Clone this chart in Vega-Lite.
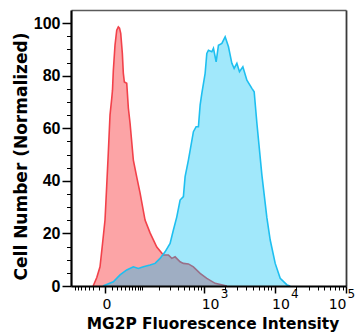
{
  "$schema": "https://vega.github.io/schema/vega-lite/v6.json",
  "width": 275,
  "height": 276,
  "autosize": {"type": "none"},
  "padding": {"left": 71, "top": 10, "right": 11, "bottom": 49},
  "background": "white",
  "view": {"stroke": null},
  "data": {
    "values": [
      {"sample": "Control", "intensity": -20, "count": 0},
      {"sample": "Control", "intensity": -13, "count": 3.2},
      {"sample": "Control", "intensity": -7.5, "count": 7.3},
      {"sample": "Control", "intensity": -3.6, "count": 16},
      {"sample": "Control", "intensity": 0, "count": 25.1},
      {"sample": "Control", "intensity": 2.4, "count": 38},
      {"sample": "Control", "intensity": 4.8, "count": 50.6},
      {"sample": "Control", "intensity": 7.5, "count": 65},
      {"sample": "Control", "intensity": 10.4, "count": 71.4},
      {"sample": "Control", "intensity": 11.7, "count": 74.5},
      {"sample": "Control", "intensity": 13.2, "count": 82},
      {"sample": "Control", "intensity": 16.3, "count": 91.6},
      {"sample": "Control", "intensity": 19.7, "count": 97.3},
      {"sample": "Control", "intensity": 23, "count": 98.6},
      {"sample": "Control", "intensity": 25.6, "count": 98.1},
      {"sample": "Control", "intensity": 28.3, "count": 96.1},
      {"sample": "Control", "intensity": 32.1, "count": 88.5},
      {"sample": "Control", "intensity": 34.5, "count": 81},
      {"sample": "Control", "intensity": 37.1, "count": 77.6},
      {"sample": "Control", "intensity": 43.5, "count": 77.1},
      {"sample": "Control", "intensity": 48.1, "count": 67.7},
      {"sample": "Control", "intensity": 53.2, "count": 62},
      {"sample": "Control", "intensity": 64, "count": 47.9},
      {"sample": "Control", "intensity": 76.4, "count": 41.4},
      {"sample": "Control", "intensity": 89.7, "count": 35.4},
      {"sample": "Control", "intensity": 112.9, "count": 25.1},
      {"sample": "Control", "intensity": 140.2, "count": 20.2},
      {"sample": "Control", "intensity": 184.3, "count": 14.8},
      {"sample": "Control", "intensity": 238.1, "count": 11.8},
      {"sample": "Control", "intensity": 287.3, "count": 11.8},
      {"sample": "Control", "intensity": 325.5, "count": 10.5},
      {"sample": "Control", "intensity": 366.8, "count": 11.1},
      {"sample": "Control", "intensity": 438.4, "count": 9.2},
      {"sample": "Control", "intensity": 492.3, "count": 8.6},
      {"sample": "Control", "intensity": 585.9, "count": 8.4},
      {"sample": "Control", "intensity": 695.7, "count": 7.3},
      {"sample": "Control", "intensity": 873.8, "count": 4.8},
      {"sample": "Control", "intensity": 1094, "count": 2.9},
      {"sample": "Control", "intensity": 1443, "count": 1.0},
      {"sample": "Control", "intensity": 2123, "count": 0},
      {"sample": "MG2P", "intensity": -3, "count": 0},
      {"sample": "MG2P", "intensity": 13.2, "count": 1.6},
      {"sample": "MG2P", "intensity": 26.7, "count": 4.2},
      {"sample": "MG2P", "intensity": 43.5, "count": 6.1},
      {"sample": "MG2P", "intensity": 64, "count": 7.3},
      {"sample": "MG2P", "intensity": 82.7, "count": 6.7},
      {"sample": "MG2P", "intensity": 104.6, "count": 7.3},
      {"sample": "MG2P", "intensity": 140.2, "count": 8.0},
      {"sample": "MG2P", "intensity": 172.2, "count": 8.6},
      {"sample": "MG2P", "intensity": 209.8, "count": 10.5},
      {"sample": "MG2P", "intensity": 253.9, "count": 13.0},
      {"sample": "MG2P", "intensity": 305.8, "count": 16.2},
      {"sample": "MG2P", "intensity": 345, "count": 21.3},
      {"sample": "MG2P", "intensity": 389.9, "count": 26.3},
      {"sample": "MG2P", "intensity": 438.4, "count": 32.7},
      {"sample": "MG2P", "intensity": 492.3, "count": 34.0},
      {"sample": "MG2P", "intensity": 522.5, "count": 41.6},
      {"sample": "MG2P", "intensity": 585.9, "count": 47.9},
      {"sample": "MG2P", "intensity": 695.7, "count": 58.7},
      {"sample": "MG2P", "intensity": 763, "count": 60.6},
      {"sample": "MG2P", "intensity": 824.8, "count": 60.6},
      {"sample": "MG2P", "intensity": 873.8, "count": 68.8},
      {"sample": "MG2P", "intensity": 925.4, "count": 73.3},
      {"sample": "MG2P", "intensity": 1034, "count": 80.9},
      {"sample": "MG2P", "intensity": 1094, "count": 88.5},
      {"sample": "MG2P", "intensity": 1155, "count": 89.7},
      {"sample": "MG2P", "intensity": 1293, "count": 89.1},
      {"sample": "MG2P", "intensity": 1364, "count": 90.4},
      {"sample": "MG2P", "intensity": 1492, "count": 85.3},
      {"sample": "MG2P", "intensity": 1610, "count": 91.6},
      {"sample": "MG2P", "intensity": 1801, "count": 92.3},
      {"sample": "MG2P", "intensity": 2008, "count": 94.8},
      {"sample": "MG2P", "intensity": 2239, "count": 91.0},
      {"sample": "MG2P", "intensity": 2502, "count": 84.7},
      {"sample": "MG2P", "intensity": 2695, "count": 82.8},
      {"sample": "MG2P", "intensity": 2946, "count": 84.7},
      {"sample": "MG2P", "intensity": 3207, "count": 81.5},
      {"sample": "MG2P", "intensity": 3583, "count": 83.4},
      {"sample": "MG2P", "intensity": 4082, "count": 78.3},
      {"sample": "MG2P", "intensity": 4803, "count": 75.2},
      {"sample": "MG2P", "intensity": 5173, "count": 73.9},
      {"sample": "MG2P", "intensity": 5650, "count": 61.9},
      {"sample": "MG2P", "intensity": 6644, "count": 42.2},
      {"sample": "MG2P", "intensity": 7813, "count": 25.9},
      {"sample": "MG2P", "intensity": 8695, "count": 17.5},
      {"sample": "MG2P", "intensity": 10217, "count": 8.6},
      {"sample": "MG2P", "intensity": 12006, "count": 2.9},
      {"sample": "MG2P", "intensity": 14960, "count": 0.4},
      {"sample": "MG2P", "intensity": 16598, "count": 0}
    ]
  },
  "layer": [
    {
      "transform": [{"filter": "datum.sample == 'Control'"}],
      "mark": {"type": "area", "fill": "#fca4a6", "fillOpacity": 1},
      "encoding": {
        "x": {
          "field": "intensity", "type": "quantitative",
          "scale": {"type": "symlog", "constant": 43, "domain": [-85.4, 100000], "nice": false, "zero": false},
          "axis": {
            "orient": "bottom", "zindex": 2, "grid": false,
            "values": [0, 1000, 10000, 100000],
            "labelExpr": "datum.value == 0 ? '0' : '10'",
            "tickSize": 7, "tickWidth": 1.5, "tickColor": "#000",
            "domainColor": "#000", "domainWidth": 2.2,
            "labelFont": "DejaVu Sans", "labelFontSize": 14, "labelColor": "#000", "labelPadding": 4,
            "labelFlush": false, "labelOverlap": false, "labelBound": false,
            "labelAlign": {"condition": {"test": "datum.value >= 100000", "value": "right"}, "value": "left"},
            "labelOffset": {"condition": {"test": "datum.value >= 100000", "value": 0}, "value": -3},
            "title": "MG2P Fluorescence Intensity",
            "titleFont": "DejaVu Sans", "titleFontWeight": "bold", "titleFontSize": 15.4, "titleColor": "#000",
            "titleX": 141.5, "titleY": 42, "titleBaseline": "alphabetic"
          }
        },
        "y": {
          "field": "count", "type": "quantitative",
          "scale": {"domain": [0, 105], "nice": false},
          "axis": {
            "orient": "left", "zindex": 2, "grid": false,
            "values": [0, 20, 40, 60, 80, 100],
            "tickSize": 9, "tickWidth": 1.5, "tickColor": "#000",
            "domainColor": "#000", "domainWidth": 2.2,
            "labelFont": "Liberation Sans", "labelFontWeight": "bold", "labelFontSize": 16, "labelColor": "#000", "labelPadding": 2,
            "labelOverlap": false, "labelFlush": false,
            "title": "Cell Number (Normalized)",
            "titleFont": "DejaVu Sans", "titleFontWeight": "bold", "titleFontSize": 17, "titleColor": "#000",
            "titleX": -44.5, "titleY": 146, "titleBaseline": "alphabetic"
          }
        }
      }
    },
    {
      "transform": [{"filter": "datum.sample == 'Control'"}],
      "mark": {"type": "line", "color": "#f2414a", "strokeWidth": 1.6},
      "encoding": {
        "x": {
          "field": "intensity", "type": "quantitative",
          "axis": {
            "orient": "bottom", "zindex": 2, "grid": false, "domain": false, "labels": false, "title": null,
            "values": [-70, -60, -50, -40, -30, -20, -10, 10, 20, 30, 40, 50, 60, 70, 80, 90, 100, 200, 300, 400, 500, 600, 700, 800, 900, 2000, 3000, 4000, 5000, 6000, 7000, 8000, 9000, 20000, 30000, 40000, 50000, 60000, 70000, 80000, 90000],
            "tickSize": 4, "tickWidth": 1, "tickColor": "#000"
          }
        },
        "y": {
          "field": "count", "type": "quantitative",
          "axis": {
            "orient": "left", "zindex": 2, "grid": false, "domain": false, "labels": false, "title": null,
            "values": [5, 10, 15, 25, 30, 35, 45, 50, 55, 65, 70, 75, 85, 90, 95],
            "tickSize": 4.5, "tickWidth": 1, "tickColor": "#000"
          }
        }
      }
    },
    {
      "transform": [{"filter": "datum.sample == 'MG2P'"}],
      "mark": {"type": "area", "fill": "#00c1f4", "fillOpacity": 0.37},
      "encoding": {
        "x": {"field": "intensity", "type": "quantitative",
          "axis": {"orient": "top", "zindex": 1, "grid": false, "domain": true, "domainColor": "#5a5a5a", "domainWidth": 1.5, "ticks": false, "labels": false, "title": null}},
        "y": {"field": "count", "type": "quantitative",
          "axis": {"orient": "right", "zindex": 1, "grid": false, "domain": true, "domainColor": "#3a3a3a", "domainWidth": 1.8, "ticks": false, "labels": false, "title": null}}
      }
    },
    {
      "transform": [{"filter": "datum.sample == 'MG2P'"}],
      "mark": {"type": "line", "color": "#1ebff0", "strokeWidth": 1.6},
      "encoding": {
        "x": {"field": "intensity", "type": "quantitative",
          "axis": {
            "orient": "bottom", "zindex": 2, "grid": false, "domain": false, "ticks": false, "tickSize": 0, "title": null,
            "values": [1000, 10000, 100000],
            "labelExpr": "datum.value == 1000 ? '3' : datum.value == 10000 ? '4' : '5'",
            "labelFont": "DejaVu Sans", "labelFontSize": 12, "labelColor": "#000", "labelPadding": 2,
            "labelFlush": false, "labelOverlap": false, "labelBound": false,
            "labelAlign": "left",
            "labelOffset": {"condition": {"test": "datum.value >= 100000", "value": 1}, "value": 16}
          }},
        "y": {"field": "count", "type": "quantitative", "axis": null}
      }
    }
  ],
  "resolve": {"axis": {"x": "independent", "y": "independent"}}
}
